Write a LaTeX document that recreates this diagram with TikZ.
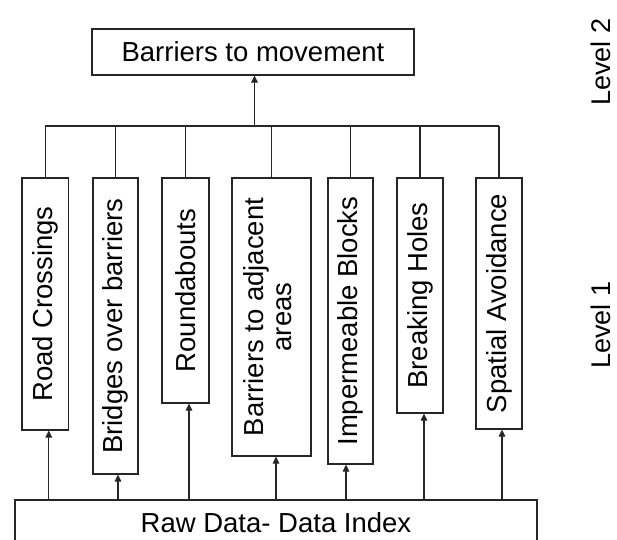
\documentclass[tikz,border=0pt]{standalone}
\usepackage{fontspec}
\setmainfont{Liberation Sans}
\usetikzlibrary{arrows.meta}

\tikzset{
  box/.style={draw=black!85, line width=1.1pt, rectangle, inner sep=0pt,
              align=center, font=\fontsize{27.5}{28}\selectfont},
  link/.style={draw=black!85, line width=1.1pt},
  uparrow/.style={link, -{Triangle[length=7pt,width=6.5pt]}},
  levellabel/.style={font=\fontsize{27}{28}\selectfont, rotate=90, inner sep=0pt}
}

\begin{document}
\begin{tikzpicture}[x=1pt, y=-1pt]
  \useasboundingbox (0,0) rectangle (617,539);
  \clip (0,0) rectangle (617,539);

  % level 2
  \node[box, minimum width=322pt, minimum height=46pt] (top) at (253,52) {Barriers to movement};

  % level 1 categories
  \node[box, minimum width=46.5pt, minimum height=252pt] (rc) at (45.25,304) {\rotatebox{90}{Road Crossings}};
  \node[box, minimum width=45pt, minimum height=296pt] (br) at (115.5,326) {\rotatebox{90}{Bridges over barriers}};
  \node[box, minimum width=47pt, minimum height=225pt] (rb) at (185.5,290.5) {\rotatebox{90}{Roundabouts}};
  \node[box, minimum width=79pt, minimum height=278pt] (ba) at (271.5,317)
    {\rotatebox{90}{\begin{tabular}{@{}c@{}}Barriers to adjacent\\areas\end{tabular}}};
  \node[box, minimum width=45pt, minimum height=286pt] (ib) at (350.5,321) {\rotatebox{90}{Impermeable Blocks}};
  \node[box, minimum width=46pt, minimum height=235pt] (bh) at (420,295.5) {\rotatebox{90}{Breaking Holes}};
  \node[box, minimum width=46pt, minimum height=251pt] (sa) at (499,303.5) {\rotatebox{90}{Spatial Avoidance}};

  % raw data
  \node[box, minimum width=522pt, minimum height=45pt] (data) at (276,522.5) {Raw Data- Data Index};

  % level labels
  \node[levellabel] (lv2) at (601,62) {Level 2};
  \node[levellabel] (lv1) at (601,325) {Level 1};

  % bus joining the categories to the top box
  \coordinate (bus) at (0,126);
  \draw[link] (rc.north |- bus) -- (sa.north |- bus);
  \foreach \n in {rc,br,rb,ba,ib,bh,sa}
    \draw[link] (\n.north) -- (\n.north |- bus);
  \draw[uparrow] ([xshift=1.5pt]top.south |- bus) -- ([xshift=1.5pt]top.south);

  % arrows from the raw data to each category
  \foreach \n/\dx in {rc/3.5, br/2.5, rb/3.5, ba/4.5, ib/-4.5, bh/4, sa/3}
    \draw[uparrow] ([xshift=\dx pt]\n.south |- data.north) -- ([xshift=\dx pt]\n.south);
\end{tikzpicture}
\end{document}
